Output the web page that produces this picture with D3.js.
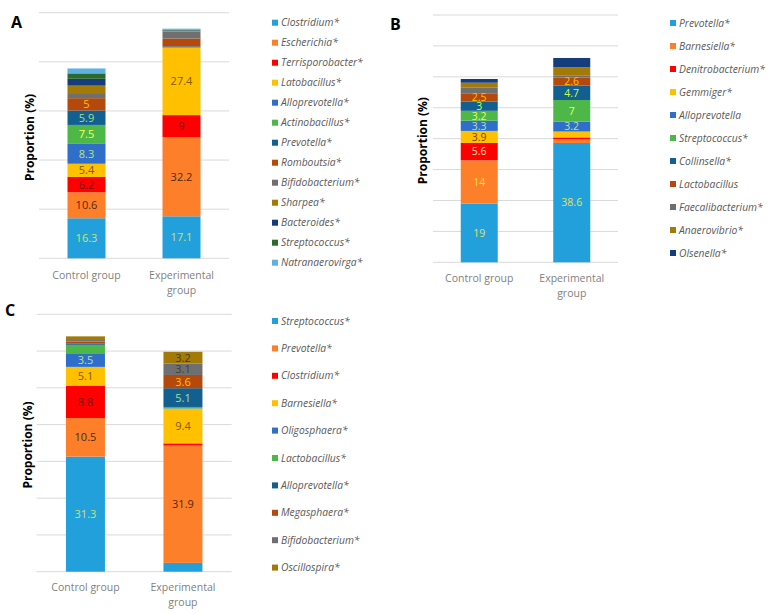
<!DOCTYPE html>
<html>
<head>
<meta charset="utf-8">
<script src="https://cdn.jsdelivr.net/npm/d3@7"></script>
<style>
  body { margin: 0; background: #fff; }
  text { font-family: "Open Sans", "Liberation Sans", sans-serif; }
</style>
</head>
<body>
<svg id="chart" width="775" height="614"></svg>
<script>
const groups = ["Control group", "Experimental group"];

// panel A
const aGenera = ["Clostridium*", "Escherichia*", "Terrisporobacter*", "Latobacillus*", "Alloprevotella*",
  "Actinobacillus*", "Prevotella*", "Romboutsia*", "Bifidobacterium*", "Sharpea*", "Bacteroides*",
  "Streptococcus*", "Natranaerovirga*"];
const aControl = [16.3, 10.6, 6.2, 5.4, 8.3, 7.5, 5.9, 5, 1.7, 3.4, 2.8, 2.2, 2.0];
const aExperimental = [17.1, 32.2, 9, 27.4, 0.2, 0.1, 0.3, 3.2, 2.8, 0.3, 0.2, 0.2, 0.5];
const aShowControl = [1, 1, 1, 1, 1, 1, 1, 1, 0, 0, 0, 0, 0];
const aShowExperimental = [1, 1, 1, 1, 0, 0, 0, 0, 0, 0, 0, 0, 0];
const aTicks = [0, 20, 40, 60, 80, 100];

// panel B
const bGenera = ["Prevotella*", "Barnesiella*", "Denitrobacterium*", "Gemmiger*", "Alloprevotella",
  "Streptococcus*", "Collinsella*", "Lactobacillus", "Faecalibacterium*", "Anaerovibrio*", "Olsenella*"];
const bControl = [19, 14, 5.6, 3.9, 3.3, 3.2, 3, 2.5, 2.1, 1.5, 1.2];
const bExperimental = [38.6, 1.2, 0.6, 1.9, 3.2, 7, 4.7, 2.6, 0.7, 2.6, 3.0];
const bShowControl = [1, 1, 1, 1, 1, 1, 1, 1, 0, 0, 0];
const bShowExperimental = [1, 0, 0, 0, 1, 1, 1, 1, 0, 0, 0];
const bTicks = [0, 10, 20, 30, 40, 50, 60, 70, 80];

// panel C
const cGenera = ["Streptococcus*", "Prevotella*", "Clostridium*", "Barnesiella*", "Oligosphaera*",
  "Lactobacillus*", "Alloprevotella*", "Megasphaera*", "Bifidobacterium*", "Oscillospira*"];
const cControl = [31.3, 10.5, 8.8, 5.1, 3.5, 2.5, 0.4, 0.5, 0.4, 1.0];
const cExperimental = [2.4, 31.9, 0.6, 9.4, 0.1, 0.4, 5.1, 3.6, 3.1, 3.2];
const cShowControl = [1, 1, 1, 1, 1, 0, 0, 0, 0, 0];
const cShowExperimental = [0, 1, 0, 1, 0, 0, 1, 1, 1, 1];
const cTicks = [0, 10, 20, 30, 40, 50, 60, 70];

const svg = d3.select('#chart');

function drawPanel(p) {
  const g = svg.append('g');

  const y = d3.scaleLinear().domain([0, p.ticks[p.ticks.length - 1]]).range(p.yRange);
  const x = d3.scalePoint().domain(groups).range(p.xRange).padding(0.5);
  const barW = x.step() * 0.4;

  // gridlines
  g.selectAll('.grid')
    .data(p.ticks)
    .join('line')
      .attr('x1', p.xRange[0]).attr('x2', p.xRange[1])
      .attr('y1', d => y(d)).attr('y2', d => y(d))
      .attr('stroke', '#d9d9d9')
      .attr('stroke-width', 1);

  const rows = groups.map((grp, i) => {
    const r = {group: grp};
    const vals = i === 0 ? p.control : p.experimental;
    p.genera.forEach((k, j) => r[k] = vals[j]);
    return r;
  });
  const series = d3.stack().keys(p.genera)(rows);

  const layer = g.selectAll('.layer')
    .data(series)
    .join('g')
      .attr('fill', (d, i) => p.colors[i]);

  layer.selectAll('rect')
    .data(d => d)
    .join('rect')
      .attr('x', d => x(d.data.group) - barW / 2)
      .attr('width', barW)
      .attr('y', d => y(d[1]))
      .attr('height', d => y(d[0]) - y(d[1]));

  // value labels
  series.forEach((s, i) => {
    s.forEach((d, gi) => {
      const show = gi === 0 ? p.showControl[i] : p.showExperimental[i];
      if (!show) return;
      g.append('text')
        .attr('x', x(d.data.group))
        .attr('y', (y(d[0]) + y(d[1])) / 2)
        .attr('dy', '0.36em')
        .attr('text-anchor', 'middle')
        .attr('font-size', p.labelSize)
        .attr('fill', p.labelInk[i])
        .text(d.data[p.genera[i]]);
    });
  });

  // category labels
  g.append('text')
    .attr('x', x(groups[0])).attr('y', p.catY)
    .attr('text-anchor', 'middle').attr('font-size', 10.5).attr('fill', '#7f7f7f')
    .text('Control group');
  const ex = g.append('text')
    .attr('x', x(groups[1])).attr('y', p.catY)
    .attr('text-anchor', 'middle').attr('font-size', 10.5).attr('fill', '#7f7f7f');
  ex.append('tspan').attr('x', x(groups[1])).text('Experimental');
  ex.append('tspan').attr('x', x(groups[1])).attr('dy', 15).text('group');

  // axis title
  g.append('text')
    .attr('transform', `translate(${p.titleX},${(p.yRange[0] + p.yRange[1]) / 2 + 2}) rotate(-90)`)
    .attr('text-anchor', 'middle')
    .attr('dy', '0.35em')
    .attr('font-size', 12)
    .attr('font-weight', 'bold')
    .attr('fill', '#000')
    .text('Proportion (%)');

  // panel letter
  g.append('text')
    .attr('x', p.letterPos[0]).attr('y', p.letterPos[1])
    .attr('font-size', 16).attr('font-weight', 'bold').attr('fill', '#000')
    .text(p.letter);

  // legend
  const leg = g.selectAll('.leg')
    .data(p.genera)
    .join('g')
      .attr('transform', (d, i) => `translate(${p.legend.x},${p.legend.y + i * p.legend.step})`);
  leg.append('rect')
    .attr('x', 0).attr('y', -3).attr('width', 6).attr('height', 6)
    .attr('fill', (d, i) => p.colors[i]);
  leg.append('text')
    .attr('x', 9).attr('dy', '0.35em')
    .attr('font-size', 10.3).attr('font-style', 'italic').attr('fill', '#595959')
    .text(d => d);
}

drawPanel({
  letter: 'A', letterPos: [11, 28],
  genera: aGenera, control: aControl, experimental: aExperimental,
  showControl: aShowControl, showExperimental: aShowExperimental, ticks: aTicks,
  yRange: [258.3, 12.7], xRange: [39, 229], titleX: 30, catY: 279, labelSize: 11,
  colors: ['#22a0db', '#fd7f2a', '#fe0000', '#ffc000', '#2f6fc9', '#4db848', '#11608f',
    '#b4490b', '#6f6f6f', '#a27a05', '#143e7b', '#2b6a2c', '#5db2e2'],
  labelInk: ['#cfe26a', '#4d2a10', '#7a1212', '#7f5a00', '#b9e08a', '#ffff50', '#a9df7c', '#ffc000'],
  legend: {x: 272, y: 22.7, step: 20}
});

drawPanel({
  letter: 'B', letterPos: [390, 30],
  genera: bGenera, control: bControl, experimental: bExperimental,
  showControl: bShowControl, showExperimental: bShowExperimental, ticks: bTicks,
  yRange: [262.3, 15], xRange: [433, 618], titleX: 423, catY: 282, labelSize: 10.5,
  colors: ['#22a0db', '#fd7f2a', '#fe0000', '#ffc000', '#2f6fc9', '#4db848', '#11608f',
    '#b4490b', '#6f6f6f', '#a27a05', '#143e7b'],
  labelInk: ['#e6e060', '#ffe040', '#ffe0a0', '#7f4000', '#b9e0a8', '#e2ff70', '#c4ff48', '#ffc000'],
  legend: {x: 670, y: 23, step: 23}
});

drawPanel({
  letter: 'C', letterPos: [5, 316],
  genera: cGenera, control: cControl, experimental: cExperimental,
  showControl: cShowControl, showExperimental: cShowExperimental, ticks: cTicks,
  yRange: [571.7, 314.3], xRange: [36.7, 231.7], titleX: 28, catY: 591, labelSize: 11,
  colors: ['#22a0db', '#fd7f2a', '#fe0000', '#ffc000', '#2f6fc9', '#4db848', '#11608f',
    '#b4490b', '#6f6f6f', '#a27a05'],
  labelInk: ['#cfe26a', '#4d2a10', '#7a1212', '#7f5a00', '#b9e0a8', '#000', '#b2e184', '#ffc000', '#3f3f3f', '#4a3a10'],
  legend: {x: 272, y: 321, step: 27.4}
});
</script>
</body>
</html>
